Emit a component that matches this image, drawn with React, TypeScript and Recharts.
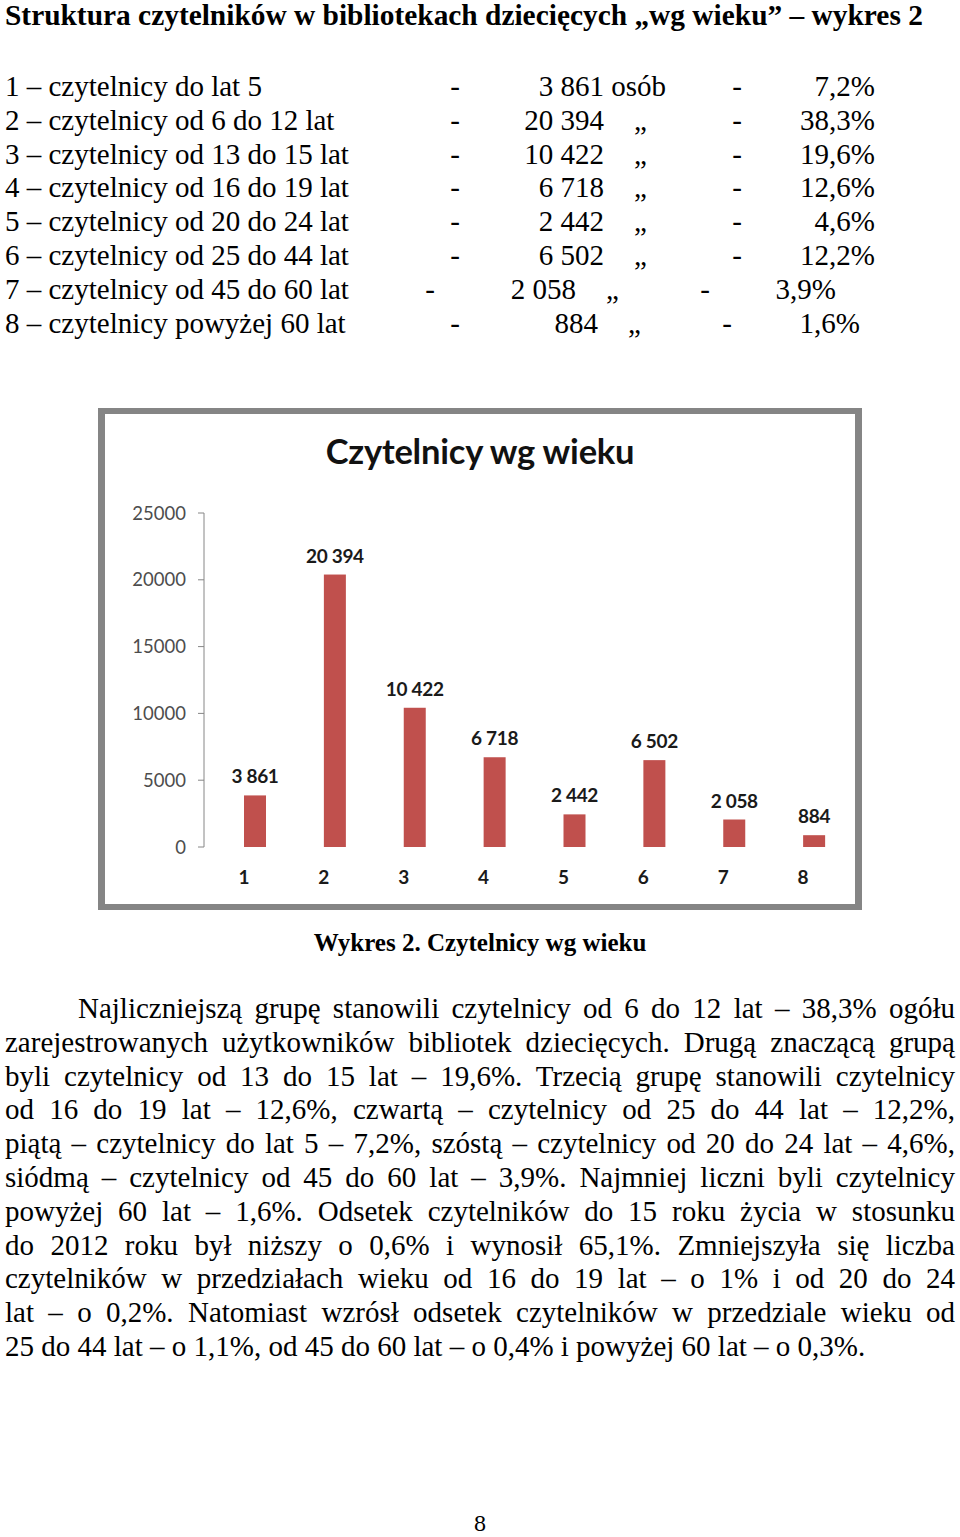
import React from 'react';
import { BarChart, Bar, XAxis, YAxis, LabelList } from 'recharts';

// Dane z wykresu 2 – czytelnicy wg wieku
const grupy = ['1', '2', '3', '4', '5', '6', '7', '8'];
const opisy = [
  '1 – czytelnicy do lat 5',
  '2 – czytelnicy od 6 do 12 lat',
  '3 – czytelnicy od 13 do 15 lat',
  '4 – czytelnicy od 16 do 19 lat',
  '5 – czytelnicy od 20 do 24 lat',
  '6 – czytelnicy od 25 do 44 lat',
  '7 – czytelnicy od 45 do 60 lat',
  '8 – czytelnicy powyżej 60 lat',
];
const liczby = [3861, 20394, 10422, 6718, 2442, 6502, 2058, 884];
const odsetki = ['7,2%', '38,3%', '19,6%', '12,6%', '4,6%', '12,2%', '3,9%', '1,6%'];
const osY = [0, 5000, 10000, 15000, 20000, 25000];
const granice = [0, 1, 2, 3, 4, 5, 6, 7, 8];

const akapit = [
  'Najliczniejszą grupę stanowili czytelnicy od 6 do 12 lat – 38,3% ogółu',
  'zarejestrowanych użytkowników bibliotek dziecięcych. Drugą znaczącą grupą',
  'byli czytelnicy od 13 do 15 lat – 19,6%. Trzecią grupę stanowili czytelnicy',
  'od 16 do 19 lat – 12,6%, czwartą – czytelnicy od 25 do 44 lat – 12,2%,',
  'piątą – czytelnicy do lat 5 – 7,2%, szóstą – czytelnicy od 20 do 24 lat – 4,6%,',
  'siódmą – czytelnicy od 45 do 60 lat – 3,9%. Najmniej liczni byli czytelnicy',
  'powyżej 60 lat – 1,6%. Odsetek czytelników do 15 roku życia w stosunku',
  'do 2012 roku był niższy o 0,6% i wynosił 65,1%. Zmniejszyła się liczba',
  'czytelników w przedziałach wieku od 16 do 19 lat – o 1% i od 20 do 24',
  'lat – o 0,2%. Natomiast wzrósł  odsetek czytelników w przedziale wieku od',
  '25 do 44 lat – o 1,1%, od 45 do 60 lat – o 0,4% i powyżej 60 lat – o 0,3%.',
];

// kolumny listy (wiersz 7 i 8 są w oryginale przesunięte)
const uklad = [
  { d1: 455, num: 604, q: 634, d2: 737, pct: 875 },
  { d1: 455, num: 604, q: 634, d2: 737, pct: 875 },
  { d1: 455, num: 604, q: 634, d2: 737, pct: 875 },
  { d1: 455, num: 604, q: 634, d2: 737, pct: 875 },
  { d1: 455, num: 604, q: 634, d2: 737, pct: 875 },
  { d1: 455, num: 604, q: 634, d2: 737, pct: 875 },
  { d1: 430, num: 576, q: 606, d2: 705, pct: 836 },
  { d1: 455, num: 598, q: 628, d2: 727, pct: 860 },
];

const formatLiczba = (v: number) => String(v).replace(/\B(?=(\d{3})+(?!\d))/g, ' ');

const daneWykresu = grupy.map((g, i) => ({ grupa: g, liczba: liczby[i] }));

const CHART_FONT = 'Lato, "Open Sans", sans-serif';

// słupek przesunięty w prawo od środka kategorii, jak w Excelu
const Slupek = (props: any) => {
  const { x, y, width, height, fill } = props;
  return <rect x={x + width / 2} y={y} width={width} height={height} fill={fill} />;
};

const Etykieta = (props: any) => {
  const { x, y, width, value } = props;
  return (
    <text
      x={x + width}
      y={y - 12}
      textAnchor="middle"
      fontFamily={CHART_FONT}
      fontWeight={700}
      fontSize={19}
      letterSpacing={-0.3}
      fill="#1a1a1a"
    >
      {formatLiczba(value)}
    </text>
  );
};

const TEXT_FONT = '"Liberation Serif", "Times New Roman", serif';
const ROW_TOP = 69;
const ROW_STEP = 33.8;

const App: React.FC = () => {
  return (
    <div
      style={{
        position: 'absolute',
        left: 0,
        top: 0,
        width: 960,
        height: 1537,
        background: '#fff',
        fontFamily: TEXT_FONT,
        color: '#000',
        overflow: 'hidden',
      }}
    >
      <div
        style={{
          position: 'absolute',
          left: 5,
          top: -2,
          fontSize: 29.4,
          lineHeight: '34px',
          fontWeight: 700,
          whiteSpace: 'nowrap',
        }}
      >
        Struktura czytelników w bibliotekach dziecięcych „wg wieku” – wykres 2
      </div>

      {opisy.map((opis, i) => {
        const u = uklad[i];
        const top = ROW_TOP + i * ROW_STEP;
        const base: React.CSSProperties = {
          position: 'absolute',
          top,
          fontSize: 29,
          lineHeight: '34px',
          whiteSpace: 'nowrap',
        };
        return (
          <React.Fragment key={opis}>
            <div style={{ ...base, left: 5 }}>{opis}</div>
            <div style={{ ...base, left: u.d1 - 20, width: 40, textAlign: 'center' }}>-</div>
            <div style={{ ...base, left: u.num - 200, width: 200, textAlign: 'right' }}>
              {formatLiczba(liczby[i])}
            </div>
            {i === 0 ? (
              <div style={{ ...base, left: u.num }}>&nbsp;osób</div>
            ) : (
              <div style={{ ...base, left: u.q }}>„</div>
            )}
            <div style={{ ...base, left: u.d2 - 20, width: 40, textAlign: 'center' }}>-</div>
            <div style={{ ...base, left: u.pct - 200, width: 200, textAlign: 'right' }}>{odsetki[i]}</div>
          </React.Fragment>
        );
      })}

      {/* ramka wykresu */}
      <div
        style={{
          position: 'absolute',
          left: 98,
          top: 408,
          width: 764,
          height: 502,
          boxSizing: 'border-box',
          border: '7px solid #858585',
          borderTopWidth: 6,
          borderBottomWidth: 6,
          background: '#fff',
        }}
      >
        <div
          style={{
            position: 'absolute',
            left: 0,
            right: 0,
            top: 17,
            textAlign: 'center',
            fontFamily: CHART_FONT,
            fontWeight: 700,
            fontSize: 34.5,
            lineHeight: '40px',
            letterSpacing: -0.2,
            color: '#111',
          }}
        >
          Czytelnicy wg wieku
        </div>
        <div style={{ position: 'absolute', left: 0, top: 0 }}>
          <BarChart
            width={750}
            height={490}
            data={daneWykresu}
            margin={{ top: 99, right: 12, left: 38, bottom: 26 }}
            barSize={22}
          >
            <XAxis
              xAxisId="granice"
              type="number"
              domain={[0, 8]}
              ticks={granice}
              allowDataOverflow
              tick={false}
              tickSize={7}
              height={0}
              stroke="#868686"
            />
            <XAxis
              xAxisId="kat"
              dataKey="grupa"
              axisLine={false}
              tickLine={false}
              tickSize={0}
              tickMargin={24}
              height={31}
              interval={0}
              tick={{ fontFamily: CHART_FONT, fontWeight: 700, fontSize: 19, fill: '#1a1a1a' }}
            />
            <YAxis
              domain={[0, 25000]}
              ticks={osY}
              width={61}
              tickSize={6}
              tickMargin={12}
              stroke="#868686"
              tick={{ fontFamily: CHART_FONT, fontSize: 18.5, fill: '#4d4d4d' }}
            />
            <Bar
              xAxisId="kat"
              dataKey="liczba"
              fill="#c0504d"
              shape={<Slupek />}
              isAnimationActive={false}
            >
              <LabelList dataKey="liczba" content={<Etykieta />} />
            </Bar>
          </BarChart>
        </div>
      </div>

      <div
        style={{
          position: 'absolute',
          left: 0,
          width: 960,
          top: 928,
          textAlign: 'center',
          fontSize: 25,
          lineHeight: '30px',
          fontWeight: 700,
        }}
      >
        Wykres 2. Czytelnicy wg wieku
      </div>

      {akapit.map((linia, i) => {
        const ostatnia = i === akapit.length - 1;
        return (
          <div
            key={i}
            style={{
              position: 'absolute',
              left: i === 0 ? 78 : 5,
              width: i === 0 ? 877 : 950,
              top: 991 + i * 33.8,
              fontSize: 29,
              lineHeight: '34px',
              whiteSpace: 'nowrap',
              textAlign: 'justify',
              textAlignLast: ostatnia ? 'left' : 'justify',
            }}
          >
            {linia}
          </div>
        );
      })}

      <div
        style={{
          position: 'absolute',
          left: 0,
          width: 960,
          top: 1508,
          textAlign: 'center',
          fontSize: 24,
          lineHeight: '30px',
        }}
      >
        8
      </div>
    </div>
  );
};

export default App;
